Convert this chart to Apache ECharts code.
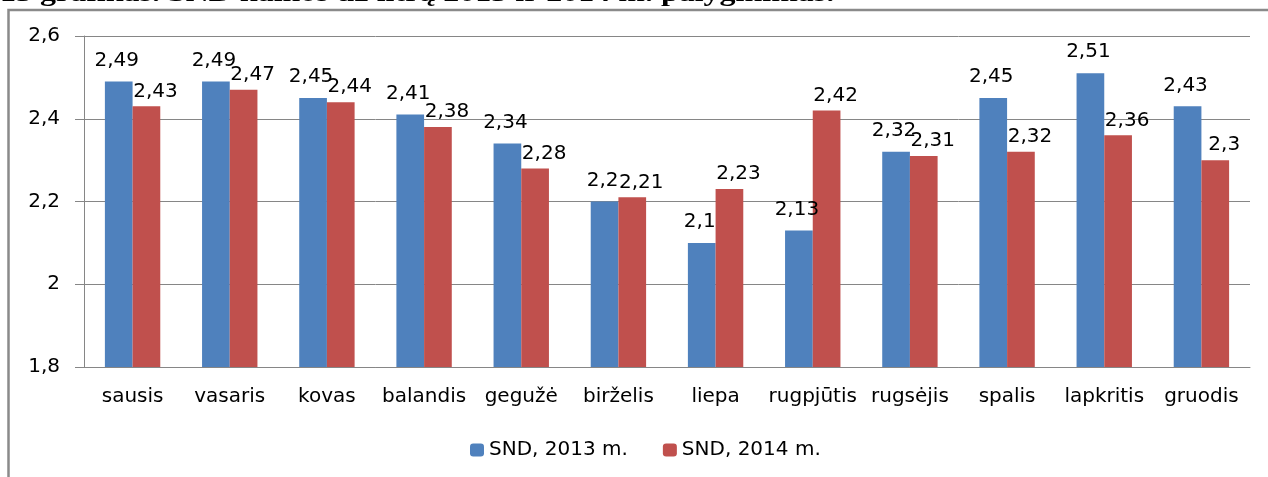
<!DOCTYPE html>
<html>
<head>
<meta charset="utf-8">
<script src="https://cdn.jsdelivr.net/npm/echarts@6/dist/echarts.min.js"></script>
<style>
  html, body { margin: 0; padding: 0; background: #fff; }
  #sndChart { width: 1268px; height: 477px; }
</style>
</head>
<body>
<div id="sndChart"></div>
<script>
// menesiai
var months = ['sausis', 'vasaris', 'kovas', 'balandis', 'gegužė', 'birželis',
  'liepa', 'rugpjūtis', 'rugsėjis', 'spalis', 'lapkritis', 'gruodis']
var snd2013 = [2.49, 2.49, 2.45, 2.41, 2.34, 2.2, 2.1, 2.13, 2.32, 2.45, 2.51, 2.43]
var snd2014 = [2.43, 2.47, 2.44, 2.38, 2.28, 2.21, 2.23, 2.42, 2.31, 2.32, 2.36, 2.3]
var seriesNames = ['SND, 2013 m.', 'SND, 2014 m.']
var yTicks = [1.8, 2, 2.2, 2.4, 2.6]
var titleText = '15 grafikas. SND kainos už litrą 2013 ir 2014 m. palyginimas.'

var font = 'DejaVu Sans'
var comma = function (v) {
  return String(v).replace('.', ',')
}

var myChart = echarts.init(document.getElementById('sndChart'))
var option = {
  animation: false,
  backgroundColor: '#fff',
  textStyle: { fontFamily: font },
  graphic: [
    {
      type: 'text',
      x: 0,
      y: -19,
      scaleX: 1.23,
      z: 1,
      style: {
        text: titleText,
        font: 'bold 26px "Liberation Serif"',
        fill: '#000'
      }
    },
    {
      type: 'rect',
      z: 2,
      shape: { x: 8.5, y: 10, width: 1400, height: 600 },
      style: { fill: 'none', stroke: '#8a8a8a', lineWidth: 2.5 }
    }
  ],
  grid: {
    left: 84,
    right: 18,
    top: 36,
    bottom: 110
  },
  legend: {
    data: seriesNames,
    left: 465,
    top: 435,
    itemWidth: 14,
    itemHeight: 13,
    itemGap: 35,
    textStyle: { fontFamily: font, fontSize: 20, color: '#000' }
  },
  xAxis: {
    type: 'category',
    data: months,
    axisLine: { lineStyle: { color: '#868686' } },
    axisTick: { length: 8, lineStyle: { color: '#868686' } },
    axisLabel: { fontFamily: font, fontSize: 20, color: '#000', margin: 20, interval: 0 }
  },
  yAxis: {
    type: 'value',
    min: yTicks[0],
    max: yTicks[yTicks.length - 1],
    interval: 0.2,
    axisLine: { show: true, lineStyle: { color: '#868686' } },
    axisTick: { show: true, length: 9, lineStyle: { color: '#868686' } },
    splitLine: { lineStyle: { color: '#868686' } },
    axisLabel: {
      fontFamily: font,
      fontSize: 20,
      color: '#000',
      margin: 24,
      formatter: function (v) {
        return comma(Math.round(v * 10) / 10)
      }
    }
  },
  series: [
    {
      name: seriesNames[0],
      type: 'bar',
      data: snd2013,
      barGap: '0%',
      barCategoryGap: '43%',
      itemStyle: { color: '#4F81BD' },
      label: {
        show: true,
        position: 'top',
        distance: 11,
        offset: [-2, 0],
        fontFamily: font,
        fontSize: 20,
        color: '#000',
        formatter: function (p) { return comma(p.value) }
      }
    },
    {
      name: seriesNames[1],
      type: 'bar',
      data: snd2014,
      itemStyle: { color: '#C0504D' },
      label: {
        show: true,
        position: 'top',
        distance: 5,
        offset: [9, 0],
        fontFamily: font,
        fontSize: 20,
        color: '#000',
        formatter: function (p) { return comma(p.value) }
      }
    }
  ]
}
myChart.setOption(option)
</script>
</body>
</html>
